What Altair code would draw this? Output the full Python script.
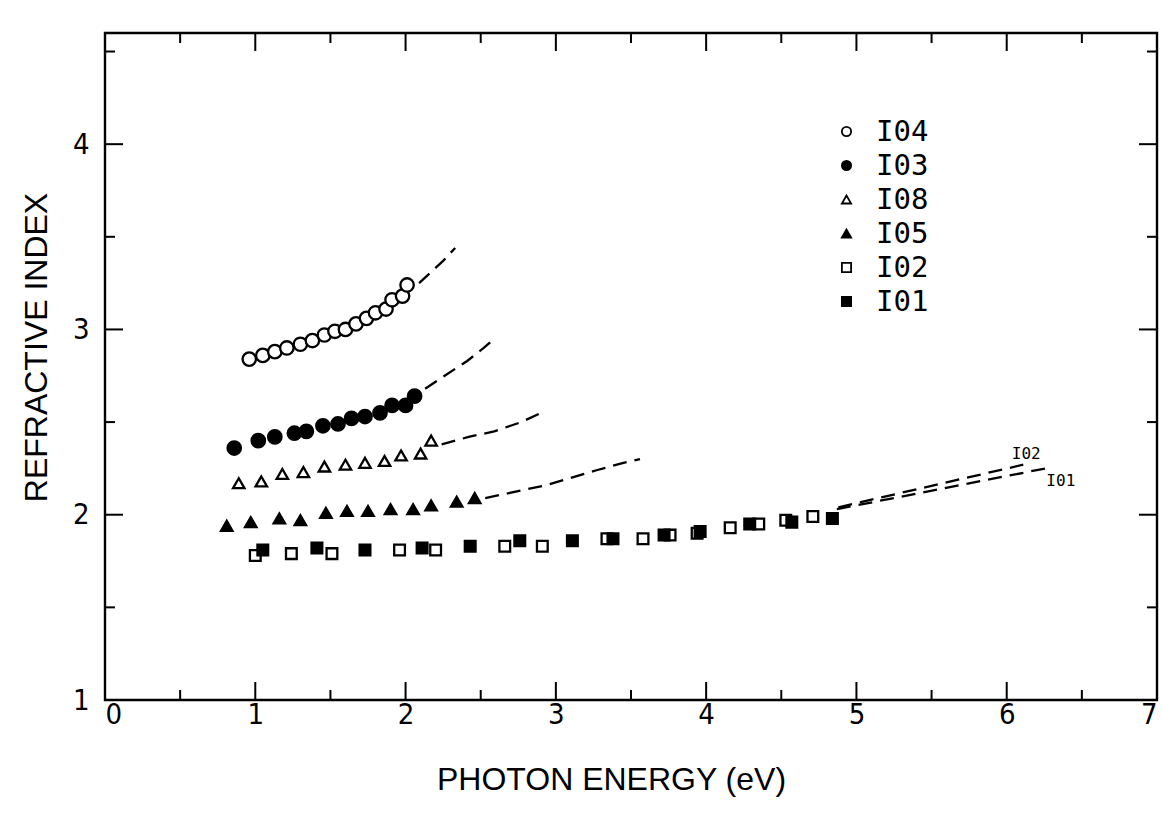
import altair as alt
import pandas as pd

# ---- measured refractive index n(E) for each film ----
series_names = ["I04", "I03", "I08", "I05", "I02", "I01"]

i04_x = [0.96, 1.05, 1.13, 1.21, 1.30, 1.38, 1.46, 1.53, 1.60, 1.67, 1.74, 1.80, 1.87, 1.91, 1.98, 2.01]
i04_y = [2.84, 2.86, 2.88, 2.90, 2.92, 2.94, 2.97, 2.99, 3.00, 3.03, 3.06, 3.09, 3.11, 3.16, 3.18, 3.24]

i03_x = [0.86, 1.02, 1.13, 1.26, 1.34, 1.45, 1.55, 1.64, 1.73, 1.83, 1.91, 2.00, 2.06]
i03_y = [2.36, 2.40, 2.42, 2.44, 2.45, 2.48, 2.49, 2.52, 2.53, 2.55, 2.59, 2.59, 2.64]

i08_x = [0.89, 1.04, 1.18, 1.32, 1.46, 1.60, 1.73, 1.86, 1.97, 2.10, 2.17]
i08_y = [2.17, 2.18, 2.22, 2.23, 2.26, 2.27, 2.28, 2.29, 2.32, 2.33, 2.40]

i05_x = [0.81, 0.97, 1.16, 1.30, 1.47, 1.61, 1.75, 1.90, 2.05, 2.17, 2.34, 2.46]
i05_y = [1.94, 1.96, 1.98, 1.97, 2.01, 2.02, 2.02, 2.03, 2.03, 2.05, 2.07, 2.09]

i02_x = [1.00, 1.24, 1.51, 1.96, 2.20, 2.66, 2.91, 3.34, 3.58, 3.76, 3.94, 4.16, 4.35, 4.53, 4.71]
i02_y = [1.78, 1.79, 1.79, 1.81, 1.81, 1.83, 1.83, 1.87, 1.87, 1.89, 1.90, 1.93, 1.95, 1.97, 1.99]

i01_x = [1.05, 1.41, 1.73, 2.11, 2.43, 2.76, 3.11, 3.38, 3.72, 3.96, 4.29, 4.57, 4.84]
i01_y = [1.81, 1.82, 1.81, 1.82, 1.83, 1.86, 1.86, 1.87, 1.89, 1.91, 1.95, 1.96, 1.98]

# ---- dispersion-fit extrapolations (dashed) ----
fit_i04_x = [2.09, 2.17, 2.25, 2.33]
fit_i04_y = [3.25, 3.31, 3.37, 3.44]
fit_i03_x = [2.13, 2.26, 2.41, 2.52, 2.59]
fit_i03_y = [2.68, 2.75, 2.83, 2.90, 2.95]
fit_i08_x = [2.24, 2.42, 2.59, 2.77, 2.93]
fit_i08_y = [2.38, 2.42, 2.45, 2.50, 2.56]
fit_i05_x = [2.53, 2.94, 3.27, 3.45, 3.56]
fit_i05_y = [2.09, 2.16, 2.24, 2.28, 2.30]
fit_i02_x = [4.88, 6.11]
fit_i02_y = [2.04, 2.27]
fit_i01_x = [4.87, 6.26]
fit_i01_y = [2.03, 2.25]

# in-plot labels for the two long fits
fit_label_text = ["I02", "I01"]
fit_label_x = [6.13, 6.36]
fit_label_y = [2.33, 2.18]

# axis tick positions
x_major = [1, 2, 3, 4, 5, 6]
x_minor = [0.5, 1.5, 2.5, 3.5, 4.5, 5.5, 6.5]
y_major = [2, 3, 4]
y_minor = [1.5, 2.5, 3.5, 4.5]
x_labels = [0, 1, 2, 3, 4, 5, 6, 7]
y_labels = [1, 2, 3, 4]

W, H = 1052, 667

pts = pd.concat([
    pd.DataFrame({"series": s, "E": xs, "n": ys})
    for s, xs, ys in [
        ("I04", i04_x, i04_y), ("I03", i03_x, i03_y), ("I08", i08_x, i08_y),
        ("I05", i05_x, i05_y), ("I02", i02_x, i02_y), ("I01", i01_x, i01_y),
    ]
])
fits = pd.concat([
    pd.DataFrame({"series": s, "E": xs, "n": ys})
    for s, xs, ys in [
        ("I04", fit_i04_x, fit_i04_y), ("I03", fit_i03_x, fit_i03_y),
        ("I08", fit_i08_x, fit_i08_y), ("I05", fit_i05_x, fit_i05_y),
        ("I02", fit_i02_x, fit_i02_y), ("I01", fit_i01_x, fit_i01_y),
    ]
])
labels_df = pd.DataFrame({"t": fit_label_text, "E": fit_label_x, "n": fit_label_y})

xscale = alt.Scale(domain=[0, 7], nice=False, zero=False)
yscale = alt.Scale(domain=[1, 4.6], nice=False, zero=False)

sans = "Liberation Sans Narrow, DejaVu Sans Condensed, Liberation Sans"

x_axis = alt.Axis(values=x_labels, format="d", domain=False, ticks=False, grid=False,
                  labelFont=sans, labelFontSize=29, labelPadding=0, labelColor="black",
                  title="PHOTON ENERGY (eV)", titleFont="Liberation Sans", titleFontSize=32,
                  titleFontWeight="normal", titleColor="black", titleX=506, titleY=89,
                  titleBaseline="alphabetic")
y_axis = alt.Axis(values=y_labels, format="d", domain=False, ticks=False, grid=False,
                  labelFont=sans, labelFontSize=29, labelPadding=16, labelColor="black",
                  title="REFRACTIVE INDEX", titleFont="Liberation Sans", titleFontSize=32,
                  titleFontWeight="normal", titleColor="black", titleX=-69, titleY=314,
                  titleAlign="center", titleBaseline="middle", titleAngle=-90)


def xq(field):
    return alt.X(field, type="quantitative", scale=xscale, axis=x_axis)


def yq(field):
    return alt.Y(field, type="quantitative", scale=yscale, axis=y_axis)


legend = alt.Legend(orient="none", legendX=727, legendY=84, title=None, padding=0,
                    labelFont="DejaVu Sans Mono", labelFontSize=29, labelColor="black",
                    labelOffset=15, rowPadding=4, symbolSize=85, symbolStrokeWidth=1.8)

shape_enc = alt.Shape(
    "series:N",
    scale=alt.Scale(domain=series_names,
                    range=["circle", "circle", "triangle-up", "triangle-up", "square", "square"]),
    legend=legend,
)
fill_enc = alt.Fill(
    "series:N",
    scale=alt.Scale(domain=series_names,
                    range=["white", "black", "white", "black", "white", "black"]),
    legend=legend,
)
stroke_enc = alt.Stroke(
    "series:N",
    scale=alt.Scale(domain=series_names, range=["black"] * 6),
    legend=legend,
)


def point_layer(names, size):
    return alt.Chart(pts[pts.series.isin(names)]).mark_point(
        strokeWidth=2.3, opacity=1, size=size
    ).encode(x=xq("E"), y=yq("n"), shape=shape_enc, fill=fill_enc, stroke=stroke_enc)


circle_pts = point_layer(["I04", "I03"], 180)
triangle_pts = point_layer(["I08", "I05"], 130)
square_pts = point_layer(["I02", "I01"], 115)

fit_lines = alt.Chart(fits).mark_line(
    color="black", strokeWidth=2.3, strokeDash=[14, 8]
).encode(x=xq("E"), y=yq("n"), detail="series:N")

fit_text = alt.Chart(labels_df).mark_text(
    font="DejaVu Sans Mono", fontSize=16, color="black"
).encode(x=xq("E"), y=yq("n"), text="t:N")


def xticks(vals, y0, y1):
    return alt.Chart(pd.DataFrame({"v": vals})).mark_rule(color="black", strokeWidth=2).encode(
        x=xq("v"), y=alt.value(y0), y2=alt.value(y1)
    )


def yticks(vals, x0, x1):
    return alt.Chart(pd.DataFrame({"v": vals})).mark_rule(color="black", strokeWidth=2).encode(
        y=yq("v"), x=alt.value(x0), x2=alt.value(x1)
    )


ticks = [
    xticks(x_major, H, H - 18), xticks(x_minor, H, H - 10),
    xticks(x_major, 0, 18), xticks(x_minor, 0, 10),
    yticks(y_major, 0, 18), yticks(y_minor, 0, 10),
    yticks(y_major, W, W - 18), yticks(y_minor, W, W - 10),
]

chart = alt.layer(circle_pts, triangle_pts, square_pts, fit_lines, fit_text, *ticks).properties(
    width=W, height=H,
    padding={"left": 105, "top": 33, "right": 6, "bottom": 114},
    autosize=alt.AutoSizeParams(type="none"),
    background="white",
).configure_view(
    stroke="black", strokeWidth=2.4
)

chart.save("out.html", embed_options={"renderer": "svg", "actions": False})
